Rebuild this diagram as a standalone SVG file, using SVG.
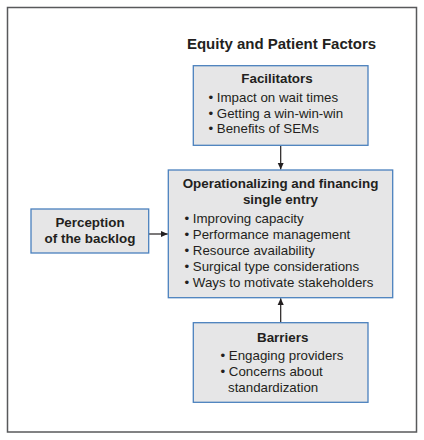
<svg xmlns="http://www.w3.org/2000/svg" width="424" height="440" viewBox="0 0 424 440">
<style>
.box{fill:#e6e6e7;stroke:#4a80bd;stroke-width:1.3}
.t{font-family:"Liberation Sans",Arial,sans-serif;font-size:13.3px;fill:#231f20}
.b{font-weight:bold;font-size:13.4px}
.c{text-anchor:middle}
.ln{stroke:#231f20;stroke-width:1.2;fill:none}
</style>
<defs>
<marker id="ah" markerWidth="8" markerHeight="8" refX="7" refY="4" orient="auto" markerUnits="userSpaceOnUse">
<path d="M0,0.8 L7,4 L0,7.2 Z" fill="#231f20"/>
</marker>
</defs>
<rect x="0" y="0" width="424" height="440" fill="#fff"/>
<rect x="7.5" y="7.5" width="409" height="424.5" fill="#fff" stroke="#58595b" stroke-width="1.5"/>
<text id="title" class="t b c" x="281.5" y="49" style="font-size:15px">Equity and Patient Factors</text>
<g id="connectors">
<line class="ln" x1="280.7" y1="146" x2="280.7" y2="169.5" marker-end="url(#ah)"/>
<line class="ln" x1="149" y1="234" x2="167.8" y2="234" marker-end="url(#ah)"/>
<line class="ln" x1="280.7" y1="322" x2="280.7" y2="298.3" marker-end="url(#ah)"/>
</g>
<g id="facilitators">
<rect class="box" x="193.3" y="65.7" width="174.7" height="79.6"/>
<text class="t b c" x="277" y="83.3">Facilitators</text>
<text class="t" x="208.5" y="101.7">• Impact on wait times</text>
<text class="t" x="208.5" y="117.7">• Getting a win-win-win</text>
<text class="t" x="208.5" y="133.3">• Benefits of SEMs</text>
</g>
<g id="main">
<rect class="box" x="168.3" y="170" width="224.4" height="127.7"/>
<text class="t b c" x="280.5" y="188.3">Operationalizing and financing</text>
<text class="t b c" x="280.5" y="204.3">single entry</text>
<text class="t" x="184.5" y="222.7">• Improving capacity</text>
<text class="t" x="184.5" y="238.7">• Performance management</text>
<text class="t" x="184.5" y="254.5">• Resource availability</text>
<text class="t" x="184.5" y="270.6">• Surgical type considerations</text>
<text class="t" x="184.5" y="286.5">• Ways to motivate stakeholders</text>
</g>
<g id="perception">
<rect class="box" x="31" y="209" width="117.7" height="44"/>
<text class="t b c" x="90" y="226.7">Perception</text>
<text class="t b c" x="90" y="243">of the backlog</text>
</g>
<g id="barriers">
<rect class="box" x="193.3" y="322.7" width="174.7" height="79.6"/>
<text class="t b c" x="282.7" y="341.7">Barriers</text>
<text class="t" x="220.5" y="360">• Engaging providers</text>
<text class="t" x="220.5" y="376">• Concerns about</text>
<text class="t" x="228" y="392">standardization</text>
</g>
</svg>
